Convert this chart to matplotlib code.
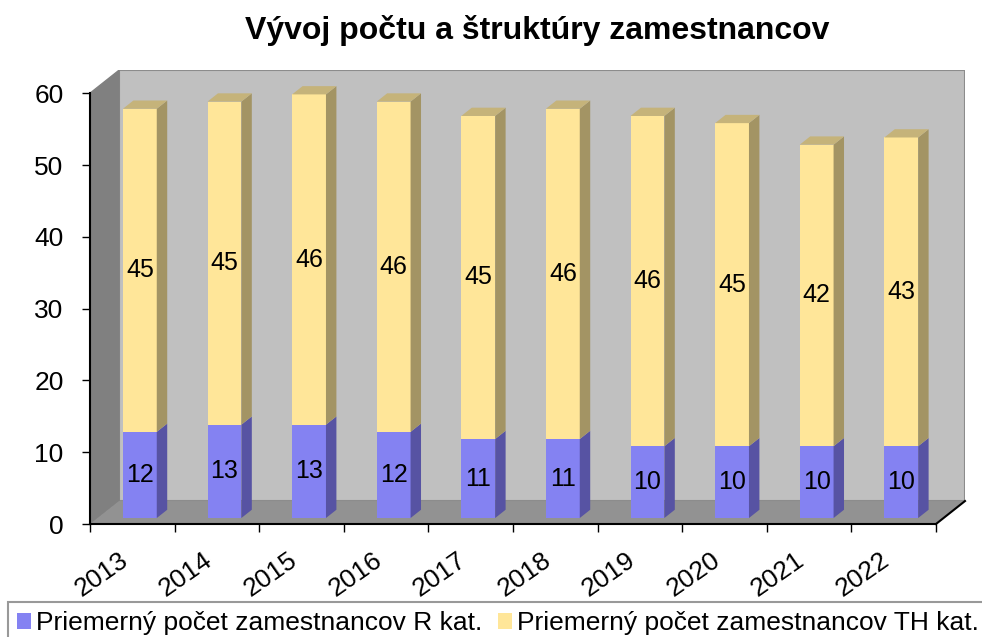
import matplotlib
matplotlib.use("Agg")
import matplotlib.pyplot as plt
from matplotlib.patches import Polygon, Patch

years = ["2013", "2014", "2015", "2016", "2017", "2018", "2019", "2020", "2021", "2022"]
r_kat = [12, 13, 13, 12, 11, 11, 10, 10, 10, 10]
th_kat = [45, 45, 46, 46, 45, 46, 46, 45, 42, 43]
legend_labels = ["Priemerný počet zamestnancov R kat.",
                 "Priemerný počet zamestnancov TH kat."]
title = "Vývoj počtu a štruktúry zamestnancov"

plt.rcParams['font.family'] = ['Liberation Sans', 'DejaVu Sans']

n = len(years)
ymax = 60
DX, DY = 0.343, 3.2          # oblique depth of the walls (data units)
d0 = 0.26                    # depth at which the bar front faces sit
bw = 0.40                    # bar width
bdx, bdy = 0.36 * DX, 0.36 * DY   # bar depth

c_r, c_r_side = "#8482F2", "#5753A3"
c_th, c_th_side, c_th_top = "#FFE699", "#A39464", "#C5B37A"

fig = plt.figure(figsize=(9.82, 6.37), dpi=100)
ax = fig.add_axes([90 / 982, 113 / 637, (n + DX) * 84.6 / 982, (ymax + DY) * 7.18 / 637])
ax.set_xlim(0, n + DX)
ax.set_ylim(0, ymax + DY)

# walls and floor
ax.add_patch(Polygon([(DX, DY), (n + DX, DY), (n + DX, ymax + DY), (DX, ymax + DY)],
                     closed=True, fc="#C0C0C0", ec="#8C8C8C", lw=1.5, zorder=1))
ax.add_patch(Polygon([(0, 0), (DX, DY), (DX, ymax + DY), (0, ymax)],
                     closed=True, fc="#808080", ec="#808080", lw=1, zorder=1))
ax.add_patch(Polygon([(0, 0), (n, 0), (n + DX, DY), (DX, DY)],
                     closed=True, fc="#929292", ec="none", zorder=1))
ax.plot([n, n + DX], [0, DY], color="black", lw=1.5, zorder=2, clip_on=False)

# bars
for i in range(n):
    x0 = i + 0.5 - bw / 2 + d0 * DX
    y0 = d0 * DY
    xc = x0 + bw / 2
    segs = [(0, r_kat[i], c_r, c_r_side), (r_kat[i], th_kat[i], c_th, c_th_side)]
    for b, v, fc, sc in segs:
        ax.bar(xc, v, bottom=y0 + b, width=bw, color=fc, zorder=3)
        ax.add_patch(Polygon([(x0 + bw, y0 + b), (x0 + bw + bdx, y0 + b + bdy),
                              (x0 + bw + bdx, y0 + b + v + bdy), (x0 + bw, y0 + b + v)],
                             closed=True, fc=sc, ec="none", zorder=3))
        ax.text(xc, y0 + b + v / 2, str(v), ha="center", va="center", fontsize=18, zorder=4)
    top = y0 + r_kat[i] + th_kat[i]
    ax.add_patch(Polygon([(x0, top), (x0 + bw, top), (x0 + bw + bdx, top + bdy), (x0 + bdx, top + bdy)],
                         closed=True, fc=c_th_top, ec="none", zorder=3))

# axes
for s in ["top", "right"]:
    ax.spines[s].set_visible(False)
ax.spines["left"].set_bounds(0, ymax)
ax.spines["bottom"].set_bounds(0, n)
ax.spines["left"].set_linewidth(1.5)
ax.spines["bottom"].set_linewidth(1.5)
ax.set_yticks(range(0, ymax + 1, 10))
ax.tick_params(axis="y", labelsize=19, length=6, width=1, pad=13, colors="black")
ax.set_xticks(range(0, n + 1))
ax.set_xticklabels([])
ax.set_xticks([i + 0.5 for i in range(n)], minor=True)
ax.set_xticklabels(years, minor=True, rotation=35, ha="right", va="top", fontsize=19)
ax.tick_params(axis="x", which="major", length=6, width=1)
ax.tick_params(axis="x", which="minor", length=0, pad=17)

fig.text(0.547, 0.952, title, ha="center", va="center", fontsize=23, fontweight="bold")

handles = [Patch(fc=c_r, ec="none"), Patch(fc=c_th, ec="none")]
leg = fig.legend(handles, legend_labels, ncol=2, loc="upper left",
                 bbox_to_anchor=(8 / 982, 35 / 637), fontsize=19, frameon=True, fancybox=False,
                 handlelength=0.53, handleheight=0.53, handletextpad=0.19, columnspacing=0.57,
                 borderpad=0.35, borderaxespad=0)
leg.get_frame().set_edgecolor("#808080")
leg.get_frame().set_linewidth(1.5)

fig.savefig("out.png", dpi=100)
